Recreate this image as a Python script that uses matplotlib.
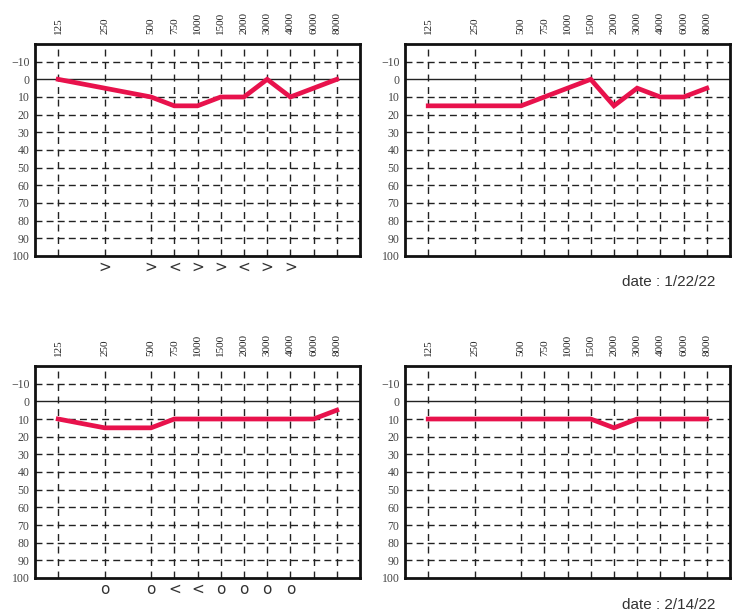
import matplotlib
matplotlib.use('Agg')
import matplotlib.pyplot as plt
from matplotlib.transforms import blended_transform_factory

# ---------------------------------------------------
# datos
# ---------------------------------------------------
freqs = ['125', '250', '500', '750', '1000', '1500', '2000', '3000', '4000', '6000', '8000']
freq_pos = [0, 2, 4, 5, 6, 7, 8, 9, 10, 11, 12]

y_ticks = [-10, 0, 10, 20, 30, 40, 50, 60, 70, 80, 90, 100]

top_left = [0, 5, 10, 15, 15, 10, 10, 0, 10, 5, 0]
top_right = [15, 15, 15, 10, 5, 0, 15, 5, 10, 10, 5]
bottom_left = [10, 15, 15, 10, 10, 10, 10, 10, 10, 10, 5]
bottom_right = [10, 10, 10, 10, 10, 10, 15, 10, 10, 10, 10]

marks_top = ['', '>', '>', '<', '>', '>', '<', '>', '>', '', '']
marks_bottom = ['', 'o', 'o', '<', '<', 'o', 'o', 'o', 'o', '', '']

dates = ['date : 1/22/22', 'date : 2/14/22']
# ---------------------------------------------------

RED = '#e8124c'
W, H = 738, 615

fig = plt.figure(figsize=(W / 100, H / 100), dpi=100)


def panel(left_px, top_px, values, marks):
    ax = fig.add_axes([left_px / W, 1 - (top_px + 212) / H, 325 / W, 212 / H])
    ax.set_xlim(-1, 13)
    ax.set_ylim(100, -20)

    # rejilla
    for x in freq_pos:
        ax.axvline(x, color='#222222', lw=1, ls=(0, (5, 4)), zorder=1)
    for y in y_ticks[:-1]:
        if y == 0:
            ax.axhline(y, color='#222222', lw=1, zorder=1)
        else:
            ax.axhline(y, color='#222222', lw=1, ls=(0, (5, 3)), zorder=1)

    ax.plot(freq_pos, values, color=RED, lw=3.4, solid_joinstyle='miter', zorder=3)

    ax.xaxis.tick_top()
    ax.set_xticks(freq_pos)
    ax.set_xticklabels(freqs, rotation=90, fontsize=8, color='#222222',
                       family='Liberation Serif')
    ax.set_yticks(y_ticks)
    ax.set_yticklabels([str(v).replace('-', '\u2212') for v in y_ticks],
                       fontsize=8.5, color='#444444', family='Liberation Serif')
    ax.tick_params(axis='both', length=0)
    ax.tick_params(axis='x', pad=7)
    ax.tick_params(axis='y', pad=4)

    for s in ax.spines.values():
        s.set_linewidth(2)
        s.set_color('#111111')

    trans = blended_transform_factory(ax.transData, ax.transAxes)
    for x, m in zip(freq_pos, marks):
        if m:
            ax.text(x, -0.055, m, transform=trans, ha='center', va='center',
                    fontsize=11, color='#333333')
    return ax


panel(35, 44, top_left, marks_top)
panel(405, 44, top_right, [''] * len(freqs))
panel(35, 366, bottom_left, marks_bottom)
panel(405, 366, bottom_right, [''] * len(freqs))

fig.text(715 / W, 1 - 282 / H, dates[0], ha='right', va='center', fontsize=11,
         color='#333333', family='Liberation Sans')
fig.text(715 / W, 1 - 605 / H, dates[1], ha='right', va='center', fontsize=11,
         color='#333333', family='Liberation Sans')

fig.savefig('out.png', dpi=100)
